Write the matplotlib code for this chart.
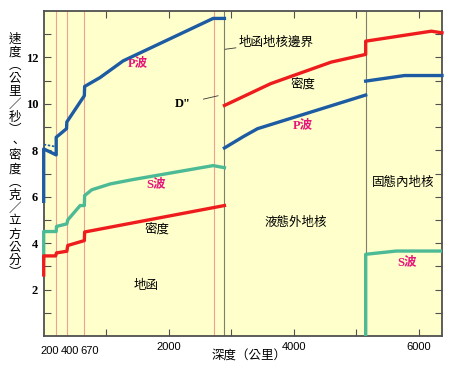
import matplotlib.pyplot as plt
import numpy as np

plt.rcParams['font.family'] = ['Noto Sans CJK TC', 'DejaVu Sans']

# depth (km) / value pairs
p_mantle_depth = [0, 0, 200, 200, 365, 370, 650, 655, 900, 1270, 2710, 2891]
p_mantle_val = [5.8, 8.06, 7.8, 8.56, 8.93, 9.22, 10.35, 10.75, 11.13, 11.85, 13.68, 13.68]
p_lid_depth = [0, 185]
p_lid_val = [8.25, 8.16]
p_outer_depth = [2891, 3200, 3420, 5150]
p_outer_val = [8.1, 8.6, 8.93, 10.38]
p_inner_depth = [5150, 5770, 6371]
p_inner_val = [10.98, 11.22, 11.22]

s_mantle_depth = [0, 0, 200, 205, 370, 385, 583, 650, 655, 770, 1064, 1430, 2710, 2891]
s_mantle_val = [3.32, 4.5, 4.5, 4.72, 4.83, 5.0, 5.62, 5.62, 6.05, 6.3, 6.55, 6.74, 7.34, 7.25]
s_inner_depth = [5150, 5150, 5640, 6371]
s_inner_val = [0, 3.52, 3.66, 3.66]

rho_mantle_depth = [0, 0, 190, 205, 370, 385, 650, 655, 2891]
rho_mantle_val = [2.63, 3.45, 3.45, 3.58, 3.65, 3.9, 4.11, 4.48, 5.62]
rho_core_depth = [2891, 3630, 4600, 5150, 5150, 6200, 6371]
rho_core_val = [9.93, 10.87, 11.8, 12.13, 12.7, 13.13, 13.06]

thin_lines = [200, 380, 650, 2720]
boundaries = [2891, 5150]

blue = '#1d5ba3'
red = '#ee1c1c'
teal = '#4dba96'
pink = '#e5157a'

fig = plt.figure(figsize=(4.53, 3.83), dpi=100)
ax = fig.add_axes([43.7 / 453, 47 / 383, (442 - 43.7) / 453, (336 - 11) / 383])
ax.set_facecolor('#ffffcc')
ax.set_xlim(0, 6371)
ax.set_ylim(0, 14)

for d in thin_lines:
    ax.axvline(d, color='#f0a090', lw=0.8, zorder=1)
for d in boundaries:
    ax.axvline(d, color='#7f7f70', lw=0.8, zorder=1)

lw = 2.4
kw = dict(lw=lw, zorder=3, clip_on=False)
ax.plot(p_mantle_depth, p_mantle_val, color=blue, **kw)
ax.plot(p_lid_depth, p_lid_val, color=blue, lw=1.2, ls=(0, (1.5, 1)), zorder=3)
ax.plot(p_outer_depth, p_outer_val, color=blue, **kw)
ax.plot(p_inner_depth, p_inner_val, color=blue, **kw)
ax.plot(s_mantle_depth, s_mantle_val, color=teal, **kw)
ax.plot(s_inner_depth, s_inner_val, color=teal, lw=lw, zorder=3)
ax.plot(rho_mantle_depth, rho_mantle_val, color=red, **kw)
ax.plot(rho_core_depth, rho_core_val, color=red, **kw)

# labels inside the plot
lab = dict(fontsize=9, ha='center', va='center', color='black')
pw = dict(fontsize=9, ha='center', va='center', color=pink, weight='bold',
          family=['Liberation Serif', 'Noto Sans CJK TC'])
ax.text(1500, 11.76, 'P波', **pw)
ax.text(1800, 6.55, 'S波', **pw)
ax.text(4150, 9.08, 'P波', **pw)
ax.text(5810, 3.19, 'S波', **pw)
ax.text(1810, 4.62, '密度', **lab)
ax.text(4150, 10.85, '密度', **lab)
ax.text(1630, 2.19, '地函', **lab)
ax.text(4030, 4.88, '液態外地核', **lab)
ax.text(5750, 6.62, '固態內地核', **lab)
ax.annotate('地函地核邊界', xy=(2900, 12.35), xytext=(3120, 12.65),
            fontsize=9, ha='left', va='center',
            arrowprops=dict(arrowstyle='-', color='#333333', lw=0.6, shrinkA=0, shrinkB=0))
ax.annotate('D"', xy=(2790, 10.35), xytext=(2230, 10.0),
            fontsize=9, ha='center', va='center', weight='bold', family='Liberation Serif',
            arrowprops=dict(arrowstyle='-', color='#333333', lw=0.6, shrinkA=7, shrinkB=0))

# axes styling
for s in ax.spines.values():
    s.set_color('#505050')
    s.set_linewidth(1.3)
ax.set_yticks(range(1, 14))
ax.set_yticklabels([str(v) if v % 2 == 0 else '' for v in range(1, 14)],
                   family='Liberation Serif', weight='bold', fontsize=9)
ax.set_xticks(range(1000, 7000, 1000))
ax.set_xticklabels(['', '2000', '', '4000', '', '6000'], family='Liberation Sans', fontsize=8)
ax.tick_params(direction='in', length=5, width=0.8, color='#505050', top=True, right=True, pad=4)

tr = ax.get_xaxis_transform()
for xd, t in zip([90, 420, 730], ['200', '400', '670']):
    ax.text(xd, -0.03, t, transform=tr, ha='center', va='top', fontsize=8, family='Liberation Sans')

fig.text(249 / 453, 1 - 356 / 383, '深度（公里）', ha='center', va='center', fontsize=9)
ylab = '速度︵公里／秒︶、密度︵克／立方公分︶'
fig.text(15 / 453, 1 - 156 / 383, '\n'.join(ylab), ha='center', va='center',
         fontsize=9, linespacing=1.0)

fig.savefig('out.png', dpi=100)
